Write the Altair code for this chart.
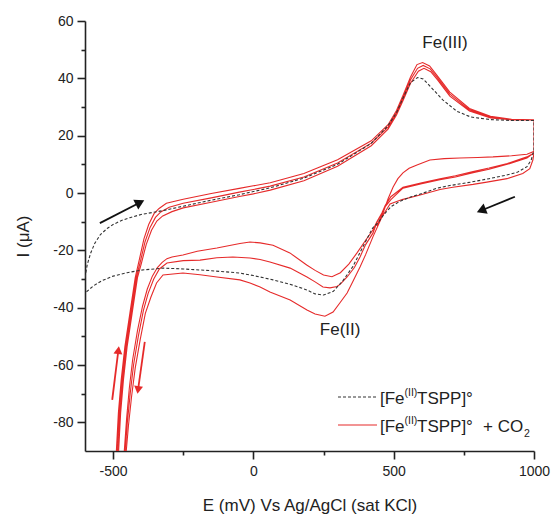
import math
import altair as alt
import pandas as pd

# ---------------- data ----------------
# [Fe(II)TSPP]° without CO2: anodic sweep then cathodic sweep
dash_fwd_E = [-600, -592, -580, -565, -545, -520, -500, -470, -440, -400,
              -360, -320, -250, -150, -50, 0, 60, 180, 300, 420,
              480, 510, 535, 560, 585, 605, 630, 675, 725, 775,
              845, 920, 1000]
dash_fwd_I = [-29.5, -25.0, -21.0, -17.5, -14.5, -12.3, -11.0, -9.6, -8.6, -7.5,
              -6.8, -6.1, -4.6, -2.5, -0.6, 0.5, 1.8, 5.2, 10.0, 17.3,
              23.5, 28.0, 33.5, 38.5, 40.3, 39.8, 37.2, 32.5, 28.5, 26.5,
              25.6, 25.3, 25.3]
dash_rev_E = [1000, 990, 975, 940, 900, 840, 775, 700, 655, 600,
              560, 520, 490, 465, 445, 425, 390, 355, 320, 285,
              250, 220, 190, 130, 70, 0, -50, -150, -250, -320,
              -400, -450, -500, -540, -570, -600]
dash_rev_I = [15.0, 11.5, 9.2, 7.2, 6.2, 5.0, 3.8, 2.6, 1.7, -0.2,
              -1.4, -3.0, -4.8, -7.5, -10.3, -12.2, -18.8, -25.6, -30.5, -34.3,
              -35.6, -35.2, -33.8, -31.8, -30.3, -28.8, -27.9, -27.1, -26.5, -26.2,
              -26.9, -27.8, -29.0, -30.6, -32.4, -34.9]

# [Fe(II)TSPP]° + CO2: initial segment then three cycles
red_init_E = [440, 452, 462, 480, 498, 515, 533, 555, 583, 629, 680, 736, 800, 854, 920, 975, 1000]
red_init_I = [-11.5, -9.0, -7.0, -2.0, 2.1, 5.0, 7.0, 8.6, 9.8, 11.5, 12.0, 12.2, 12.4, 12.6, 13.0, 13.5, 14.5]

red_rev1_E = [1000, 975, 905, 840, 783, 720, 665, 600, 533, 490,
              470, 458, 440, 426, 400, 370, 340, 310, 280, 250,
              220, 190, 130, 70, 24, -12, -48, -130, -200, -251,
              -290, -308, -325, -342, -360, -378, -395, -413, -430, -442,
              -452, -460, -462]
red_rev1_I = [14.0, 12.6, 10.3, 8.7, 7.5, 6.0, 5.0, 3.6, 2.0, -1.3,
              -4.3, -7.0, -10.0, -12.9, -16.5, -20.8, -24.8, -27.8, -29.2, -28.6,
              -27.0, -25.1, -20.9, -18.2, -17.4, -17.1, -17.6, -19.2, -20.3, -21.6,
              -22.3, -22.9, -24.2, -26.0, -29.0, -33.5, -39.5, -48.0, -58.0, -68.0,
              -79.0, -90.0, -95.0]
red_fwd1_E = [-482, -480, -473, -463, -450, -432, -413, -399, -382, -363,
              -344, -323, -290, -250, -150, -50, 0, 60, 180, 300,
              420, 480, 510, 535, 560, 588, 608, 632, 657, 700,
              770, 845, 920, 1000]
red_fwd1_I = [-95.0, -89.6, -76.7, -65.2, -53.7, -41.9, -29.5, -24.5, -18.0, -13.0,
              -9.8, -8.0, -6.5, -5.2, -3.2, -1.2, -0.3, 1.0, 4.3, 9.3,
              16.5, 22.3, 27.2, 32.6, 38.3, 42.5, 43.5, 42.3, 39.4, 33.8,
              28.6, 26.2, 25.5, 25.5]
red_rev2_E = [1000, 975, 905, 840, 783, 720, 665, 600, 533, 490,
              470, 458, 440, 426, 400, 380, 360, 334, 310, 298,
              273, 248, 220, 191, 131, 59, 24, -12, -73, -130,
              -190, -250, -308, -335, -355, -375, -392, -410, -427, -439,
              -449, -457, -459]
red_rev2_I = [14.0, 12.2, 10.0, 8.3, 7.1, 5.6, 4.6, 3.2, 1.7, -2.3,
              -4.8, -7.0, -10.3, -14.0, -18.0, -22.3, -26.0, -29.3, -31.8, -32.6,
              -33.1, -32.8, -31.0, -29.3, -26.2, -24.1, -23.2, -22.7, -22.3, -22.6,
              -23.4, -23.6, -24.4, -26.5, -30.0, -35.0, -41.0, -50.0, -60.0, -70.0,
              -80.0, -90.0, -95.0]
red_fwd2_E = [-486, -484, -477, -467, -454, -436, -417, -403, -386, -368,
              -349, -330, -300, -250, -150, -50, 0, 60, 180, 300,
              420, 480, 510, 535, 560, 585, 605, 630, 655, 700,
              770, 845, 920, 1000]
red_fwd2_I = [-95.0, -89.6, -76.7, -65.2, -53.7, -41.9, -29.5, -24.0, -17.0, -12.0,
              -8.5, -6.6, -5.0, -3.6, -1.7, 0.3, 1.2, 2.4, 5.6, 10.5,
              17.4, 23.0, 28.0, 33.5, 39.5, 43.5, 44.5, 43.3, 40.3, 34.5,
              29.0, 26.5, 25.6, 25.5]
red_rev3_E = [1000, 996, 985, 960, 904, 832, 783, 711, 665, 594,
              530, 487, 458, 426, 400, 380, 355, 334, 310, 284,
              255, 220, 191, 131, 59, 24, -12, -48, -130, -190,
              -251, -322, -345, -365, -385, -403, -421, -434, -445, -453,
              -455]
red_rev3_I = [14.0, 11.5, 8.5, 6.8, 5.0, 3.8, 3.0, 2.0, 1.2, -0.7,
              -2.3, -3.8, -8.4, -15.3, -21.5, -25.8, -30.8, -34.9, -38.1, -41.5,
              -43.0, -42.2, -40.8, -37.3, -34.5, -32.8, -31.4, -30.3, -29.3, -28.5,
              -27.9, -28.6, -31.4, -36.3, -42.0, -51.0, -61.0, -71.0, -81.0, -90.0,
              -95.0]
red_fwd3_E = [-490, -488, -481, -471, -458, -440, -421, -407, -390, -373,
              -354, -336, -310, -250, -150, -50, 0, 60, 180, 300,
              420, 480, 510, 535, 560, 583, 603, 628, 653, 700,
              770, 845, 920, 1000]
red_fwd3_I = [-95.0, -89.6, -76.7, -65.2, -53.7, -41.9, -29.5, -23.5, -16.0, -11.0,
              -7.2, -5.4, -3.6, -2.2, -0.2, 1.6, 2.5, 3.6, 6.8, 11.6,
              18.2, 23.8, 28.8, 34.5, 40.5, 44.8, 45.5, 44.3, 41.2, 35.2,
              29.5, 26.8, 25.7, 25.5]

# scan-direction arrows: tail (E0, I0) -> head (E1, I1)
arrow_E0 = [-547, 932, -503, -387]
arrow_I0 = [-10.5, -1.3, -72.2, -51.9]
arrow_E1 = [-404, 812, -481, -411]
arrow_I1 = [-3.3, -6.1, -54.8, -68.7]
arrow_col = ["#111111", "#111111", "#e62a2a", "#e62a2a"]

ann_E = [683, 309]
ann_I = [52.3, -47.8]
ann_text = ["Fe(III)", "Fe(II)"]

# legend text pieces: (text, kind) where kind is normal / sup / sub
legend_row1 = [("[Fe", "n"), ("(II)", "sup"), ("TSPP]\u00b0", "n")]
legend_row2 = [("[Fe", "n"), ("(II)", "sup"), ("TSPP]\u00b0", "n"), ("+ CO", "n"), ("2", "sub")]

x_ticks = [-500, -250, 0, 250, 500, 750, 1000]
y_ticks = [-80, -70, -60, -50, -40, -30, -20, -10, 0, 10, 20, 30, 40, 50, 60]

# ---------------- build ----------------
RED = "#e62a2a"
DASH = "#333333"
FONT = "Liberation Sans"
W, H = 449, 430


def path(segments):
    E, I = [], []
    for e, i in segments:
        E += e
        I += i
    return pd.DataFrame({"E": E, "I": I, "k": list(range(len(E)))})


df_dash = path([(dash_fwd_E, dash_fwd_I), (dash_rev_E, dash_rev_I)])
df_red = path([(red_init_E, red_init_I), (red_rev1_E, red_rev1_I), (red_fwd1_E, red_fwd1_I),
               (red_rev2_E, red_rev2_I), (red_fwd2_E, red_fwd2_I),
               (red_rev3_E, red_rev3_I), (red_fwd3_E, red_fwd3_I)])

sx, sy = W / 1600.0, H / 150.0
angles = [(math.degrees(math.atan2(-(i1 - i0) * sy, (e1 - e0) * sx)) + 360) % 360
          for e0, i0, e1, i1 in zip(arrow_E0, arrow_I0, arrow_E1, arrow_I1)]
df_arr = pd.DataFrame({"E0": arrow_E0, "I0": arrow_I0, "E1": arrow_E1, "I1": arrow_I1,
                       "col": arrow_col, "ang": angles,
                       "sz": [120 if c == "#111111" else 80 for c in arrow_col]})
df_ann = pd.DataFrame({"E": ann_E, "I": ann_I, "t": ann_text})

xs = alt.Scale(domain=[-600, 1000], nice=False, zero=False)
ys = alt.Scale(domain=[-90, 60], nice=False, zero=False)

AX = dict(domainColor="#222222", domainWidth=1.6, tickColor="#222222", tickWidth=1.6,
          labelFont=FONT, labelFontSize=14, labelColor="#222222",
          titleFont=FONT, titleFontSize=17, titleFontWeight="normal", titleColor="#222222",
          grid=False, labelOverlap=False, labelFlush=False)

xaxis = alt.Axis(values=x_ticks,
                 labelExpr="datum.value % 500 == 0 ? '' + datum.value : ''",
                 tickSize={"condition": {"test": "datum.value % 500 == 0", "value": 8}, "value": 4},
                 labelPadding=5,
                 title="E (mV) Vs Ag/AgCl (sat KCl)",
                 titleX=W / 2, titleY=54, titleAlign="center", titleBaseline="middle", **AX)
yaxis = alt.Axis(values=y_ticks,
                 labelExpr="datum.value % 20 == 0 ? '' + datum.value : ''",
                 tickSize={"condition": {"test": "datum.value % 20 == 0", "value": 8}, "value": 4},
                 labelPadding=4,
                 title="I (\u03bcA)",
                 titleX=-62, titleY=H / 2, titleAngle=270, titleAlign="center", titleBaseline="middle", **AX)


def X(f):
    return alt.X(f, type="quantitative", scale=xs, axis=xaxis)


def Y(f):
    return alt.Y(f, type="quantitative", scale=ys, axis=yaxis)


red_line = alt.Chart(df_red).mark_line(color=RED, strokeWidth=1.1, clip=True).encode(
    x=X("E"), y=Y("I"), order="k:Q")
dash_line = alt.Chart(df_dash).mark_line(color=DASH, strokeWidth=1.1, strokeDash=[3, 2], clip=True).encode(
    x=X("E"), y=Y("I"), order="k:Q")

arr_rule = alt.Chart(df_arr).mark_rule(strokeWidth=1.8).encode(
    x=X("E0"), y=Y("I0"), x2="E1:Q", y2="I1:Q", color=alt.Color("col:N", scale=None))
arr_head = alt.Chart(df_arr).mark_point(shape="triangle-right", filled=True, opacity=1, strokeWidth=0).encode(
    x=X("E1"), y=Y("I1"), angle=alt.Angle("ang:Q", scale=None),
    color=alt.Color("col:N", scale=None), size=alt.Size("sz:Q", scale=None))

ann = alt.Chart(df_ann).mark_text(font=FONT, fontSize=17, color="#222222").encode(
    x=X("E"), y=Y("I"), text="t:N")

# ---- hand-made legend (pixel layout inside the plot area) ----
one = pd.DataFrame({"k": [0]})
leg_layers = [
    alt.Chart(one).mark_rule(color=DASH, strokeWidth=1.1, strokeDash=[3, 2]).encode(
        x=alt.value(253), x2=alt.value(292), y=alt.value(376)),
    alt.Chart(one).mark_rule(color=RED, strokeWidth=1.2).encode(
        x=alt.value(253), x2=alt.value(292), y=alt.value(404)),
]
piece_x = {"[Fe": 295, "(II)": 319.5, "TSPP]\u00b0": 332, "+ CO": 398, "2": 439}
for row_y, row in ((378, legend_row1), (406, legend_row2)):
    for txt, kind in row:
        size = 17 if kind == "n" else 10.5
        dy = {"n": 0, "sup": -6, "sub": 7}[kind]
        leg_layers.append(
            alt.Chart(one).mark_text(font=FONT, fontSize=size, color="#222222",
                                     align="left", baseline="middle").encode(
                x=alt.value(piece_x[txt]), y=alt.value(row_y + dy), text=alt.value(txt)))

chart = alt.layer(red_line, dash_line, arr_rule, arr_head, ann, *leg_layers).properties(
    width=W, height=H,
    autosize=alt.AutoSizeParams(type="none"),
    padding={"left": 85, "top": 21, "right": 17, "bottom": 66},
    background="white",
).configure_view(stroke=None)

chart.save("out.html", embed_options={"renderer": "svg", "actions": False})
